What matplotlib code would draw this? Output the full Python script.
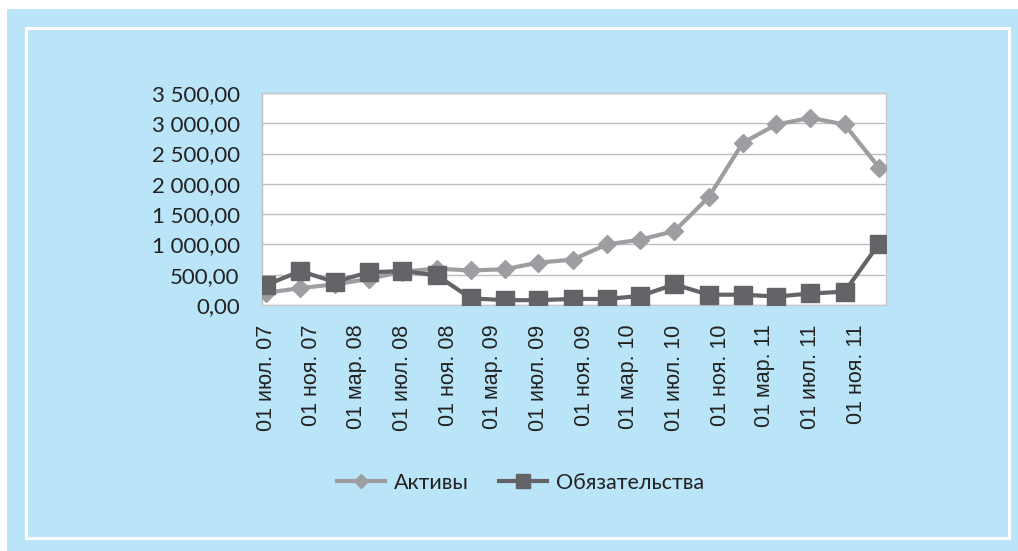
import datetime as dt
import matplotlib
matplotlib.use('Agg')
import matplotlib.pyplot as plt
import matplotlib.dates as mdates
from matplotlib.patches import Rectangle
from matplotlib.ticker import FuncFormatter, MultipleLocator

# quarterly observations, Jul 2007 .. Jan 2012
dates = [dt.date(2007 + (6 + 3 * i) // 12, (6 + 3 * i) % 12 + 1, 1) for i in range(19)]
assets = [200, 280, 340, 430, 550, 600, 570, 590, 700, 750,
          1000, 1080, 1220, 1780, 2680, 2980, 3090, 2980, 2270]
liabilities = [330, 560, 380, 540, 560, 490, 110, 80, 80, 100,
               100, 150, 340, 170, 170, 140, 190, 220, 1010]

tick_labels = ['01 июл. 07', '01 ноя. 07', '01 мар. 08', '01 июл. 08', '01 ноя. 08',
               '01 мар. 09', '01 июл. 09', '01 ноя. 09', '01 мар. 10', '01 июл. 10',
               '01 ноя. 10', '01 мар. 11', '01 июл. 11', '01 ноя. 11']
tick_dates = [dt.date(2007 + (6 + 4 * i) // 12, (6 + 4 * i) % 12 + 1, 1) for i in range(14)]

W, H = 1018, 551
fig = plt.figure(figsize=(W / 100, H / 100), dpi=100, facecolor='white')

# blue panel and white inner frame
fig.patches.append(Rectangle((7 / W, 0), 1 - 7 / W, 1 - 9 / H, transform=fig.transFigure,
                             facecolor='#bae4f8', edgecolor='none', zorder=0))
fig.patches.append(Rectangle((26 / W, 1 - 538 / H), (1009 - 26) / W, (538 - 28) / H,
                             transform=fig.transFigure, facecolor='none',
                             edgecolor='white', linewidth=2.2, zorder=1))

ax = fig.add_axes([262 / W, 1 - 305 / H, (886 - 262) / W, (305 - 93) / H])
ax.set_zorder(3)
ax.set_facecolor('white')

ax.plot(dates, assets, color='#9e9ea2', lw=3.0, marker='D', ms=9,
        label='Активы', zorder=3)
ax.plot(dates, liabilities, color='#646468', lw=3.0, marker='s', ms=13,
        label='Обязательства', zorder=4)

ax.set_ylim(0, 3500)
ax.yaxis.set_major_locator(MultipleLocator(500))
ax.yaxis.set_major_formatter(FuncFormatter(
    lambda v, p: '{:,.2f}'.format(v).replace(',', ' ').replace('.', ',')))
ax.grid(axis='y', color='#bdbdbd', lw=1.0)
ax.set_axisbelow(True)

ax.set_xlim(mdates.date2num(dt.date(2007, 6, 20)), mdates.date2num(dt.date(2012, 1, 20)))
ax.set_xticks(mdates.date2num(tick_dates))
ax.set_xticklabels(tick_labels, rotation=90, fontsize=15.5, family='Liberation Sans', color='#222222')
ax.tick_params(axis='x', length=0, pad=14)
ax.tick_params(axis='y', length=0, pad=16)
for lab in ax.get_yticklabels():
    lab.set_fontsize(16)
    lab.set_family('Lato')
    lab.set_color('#222222')

for s in ax.spines.values():
    s.set_color('#c8c8c8')
    s.set_linewidth(1.0)
ax.spines['left'].set_color('#bdbdbd')

leg = fig.legend(loc='center', bbox_to_anchor=(521 / W, 1 - 483 / H), ncol=2,
                 frameon=False, handlelength=2.2, handletextpad=0.45,
                 columnspacing=1.4, markerscale=0.75,
                 prop={'family': 'Lato', 'size': 15.5})
leg.set_zorder(4)
for t in leg.get_texts():
    t.set_color('#222222')

fig.savefig('out.png', dpi=100, facecolor=fig.get_facecolor())
